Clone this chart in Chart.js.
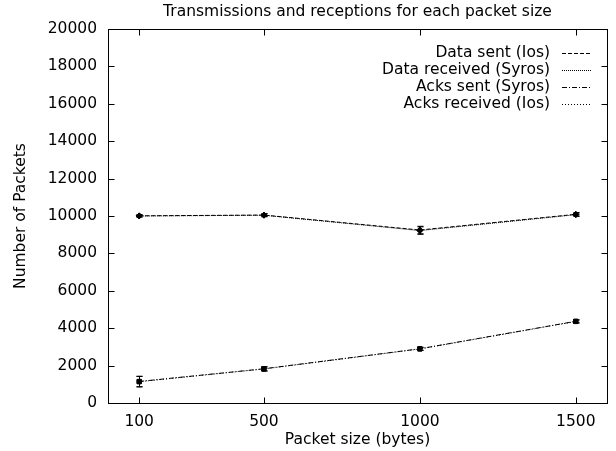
<!DOCTYPE html>
<html>
<head>
<meta charset="utf-8">
<script src="https://cdn.jsdelivr.net/npm/chart.js@4.4.0/dist/chart.umd.min.js"></script>
<style>
  html, body { margin: 0; padding: 0; background: #fff; }
  #wrap { width: 616px; height: 451px; }
</style>
</head>
<body>
<div id="wrap"><canvas id="chart" width="616" height="451"></canvas></div>
<script>
// Packet sizes on the x axis
const packetSizes = [100, 500, 1000, 1500];
const xTicks = [100, 500, 1000, 1500];
const yTicks = [0, 2000, 4000, 6000, 8000, 10000, 12000, 14000, 16000, 18000, 20000];

// Series values
const dataSentIos = [10010, 10050, 9250, 10090];
const dataRecvSyros = [10000, 10040, 9220, 10070];
const acksSentSyros = [1150, 1830, 2900, 4370];
const acksRecvIos = [1140, 1820, 2890, 4360];

// Error bar half-heights
const dataSentErr = [60, 80, 200, 90];
const dataRecvErr = [60, 80, 200, 90];
const acksSentErr = [280, 110, 80, 80];
const acksRecvErr = [280, 110, 80, 80];

const FONT = '"DejaVu Sans", Arial, sans-serif';
const FSIZE = 15.5;

function makeSet(label, values, errs, dash, pointStyle) {
    return {
        label: label,
        data: packetSizes.map((x, i) => ({ x: x, y: values[i] })),
        errors: errs,
        borderColor: '#000',
        backgroundColor: '#000',
        borderWidth: 1,
        borderDash: dash,
        pointStyle: pointStyle,
        pointRadius: 3,
        pointBorderWidth: 1,
        tension: 0
    };
}

// Error bars, mirrored inward ticks, box and gnuplot-like legend
const gnuplotLook = {
    id: 'gnuplotLook',
    afterDatasetsDraw(chart) {
        const ctx = chart.ctx;
        const xs = chart.scales.x;
        const ys = chart.scales.y;
        ctx.save();
        ctx.strokeStyle = '#000';
        ctx.lineWidth = 1;
        ctx.setLineDash([]);
        chart.data.datasets.forEach(ds => {
            ds.data.forEach((p, i) => {
                const err = ds.errors[i];
                const px = Math.round(xs.getPixelForValue(p.x)) + 0.5;
                const y1 = ys.getPixelForValue(p.y - err);
                const y2 = ys.getPixelForValue(p.y + err);
                ctx.beginPath();
                ctx.moveTo(px, y1);
                ctx.lineTo(px, y2);
                ctx.moveTo(px - 3, y1);
                ctx.lineTo(px + 3, y1);
                ctx.moveTo(px - 3, y2);
                ctx.lineTo(px + 3, y2);
                ctx.stroke();
            });
        });

        const a = chart.chartArea;
        const L = Math.round(a.left) + 0.5, R = Math.round(a.right) + 0.5;
        const T = Math.round(a.top) + 0.5, B = Math.round(a.bottom) + 0.5;
        ctx.strokeRect(L, T, R - L, B - T);
        ctx.beginPath();
        yTicks.forEach(v => {
            const py = Math.round(ys.getPixelForValue(v)) + 0.5;
            ctx.moveTo(L, py); ctx.lineTo(L + 6, py);
            ctx.moveTo(R, py); ctx.lineTo(R - 6, py);
        });
        xTicks.forEach(v => {
            const px = Math.round(xs.getPixelForValue(v)) + 0.5;
            ctx.moveTo(px, B); ctx.lineTo(px, B - 6);
            ctx.moveTo(px, T); ctx.lineTo(px, T + 6);
        });
        ctx.stroke();

        // legend, text right-aligned with the line sample after it
        ctx.font = FSIZE + 'px ' + FONT;
        ctx.textAlign = 'right';
        ctx.textBaseline = 'middle';
        ctx.fillStyle = '#000';
        chart.data.datasets.forEach((ds, i) => {
            const y = 53 + i * 17;
            ctx.fillText(ds.label, 550, y);
            ctx.setLineDash(ds.borderDash);
            ctx.beginPath();
            ctx.moveTo(562, Math.round(y) + 0.5);
            ctx.lineTo(592, Math.round(y) + 0.5);
            ctx.stroke();
        });
        ctx.restore();
    }
};

new Chart(document.getElementById('chart').getContext('2d'), {
    type: 'line',
    data: {
        datasets: [
            makeSet('Data sent (Ios)', dataSentIos, dataSentErr, [4, 2], 'rectRot'),
            makeSet('Data received (Syros)', dataRecvSyros, dataRecvErr, [1, 1], 'rectRot'),
            makeSet('Acks sent (Syros)', acksSentSyros, acksSentErr, [5, 2, 1, 2], 'rect'),
            makeSet('Acks received (Ios)', acksRecvIos, acksRecvErr, [1, 2], 'rect')
        ]
    },
    options: {
        responsive: false,
        animation: false,
        layout: { padding: { left: 0, right: 9, top: 0, bottom: 0 } },
        plugins: {
            legend: { display: false },
            tooltip: { enabled: false },
            title: {
                display: true,
                fullSize: false,
                text: 'Transmissions and receptions for each packet size',
                color: '#000',
                font: { family: FONT, size: FSIZE, weight: 'normal', lineHeight: 1.2 },
                padding: { top: 3, bottom: 7.4 }
            }
        },
        scales: {
            x: {
                type: 'linear',
                min: 0,
                max: 1600,
                afterBuildTicks: s => { s.ticks = xTicks.map(v => ({ value: v })); },
                afterFit: s => { s.height = 48; },
                grid: { display: false, drawTicks: false },
                border: { display: false },
                ticks: {
                    color: '#000',
                    padding: 10,
                    maxRotation: 0,
                    font: { family: FONT, size: FSIZE },
                    callback: v => String(v)
                },
                title: {
                    display: true,
                    text: 'Packet size (bytes)',
                    color: '#000',
                    padding: { top: 0, bottom: 2 },
                    font: { family: FONT, size: FSIZE }
                }
            },
            y: {
                min: 0,
                max: 20000,
                afterBuildTicks: s => { s.ticks = yTicks.map(v => ({ value: v })); },
                afterFit: s => { s.width = 108; },
                grid: { display: false, drawTicks: false },
                border: { display: false },
                ticks: {
                    color: '#000',
                    padding: 11,
                    font: { family: FONT, size: FSIZE },
                    callback: v => String(v)
                },
                title: {
                    display: true,
                    text: 'Number of Packets',
                    color: '#000',
                    padding: { top: 12, bottom: 0 },
                    font: { family: FONT, size: FSIZE }
                }
            }
        }
    },
    plugins: [gnuplotLook]
});
</script>
</body>
</html>
